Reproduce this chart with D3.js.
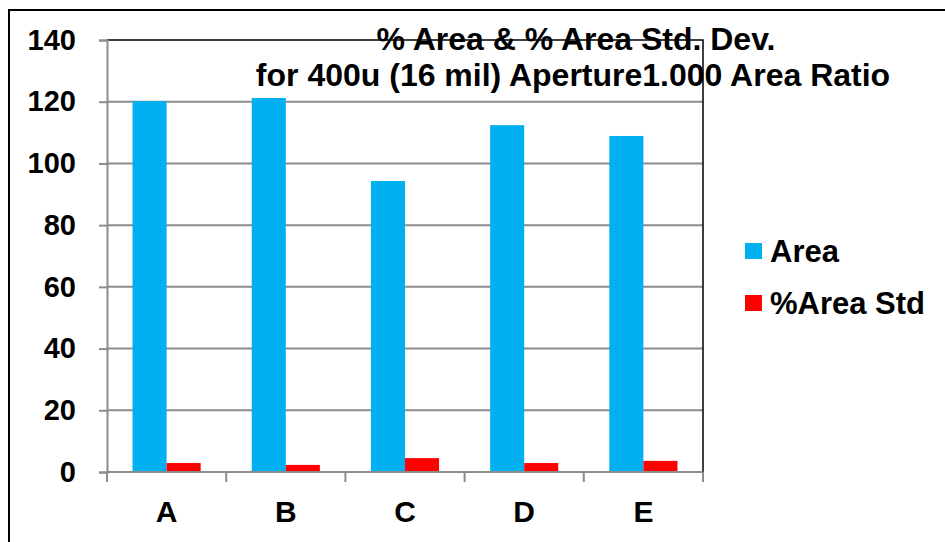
<!DOCTYPE html>
<html>
<head>
<meta charset="utf-8">
<script src="https://cdn.jsdelivr.net/npm/d3@7"></script>
<style>
  html, body { margin: 0; padding: 0; background: #fff; }
  svg { display: block; font-family: "Liberation Sans", Arial, sans-serif; }
</style>
</head>
<body>
<svg id="chart" width="945" height="542"></svg>
<script>
const categories = ["A", "B", "C", "D", "E"];
const areaValues = [120.2, 121.2, 94.3, 112.4, 108.9];
const stdValues = [2.9, 2.3, 4.5, 2.9, 3.6];
const seriesNames = ["Area", "%Area Std"];
const seriesColors = ["#00B0F0", "#FF0000"];
const yTicks = [0, 20, 40, 60, 80, 100, 120, 140];
const titleLines = ["% Area & % Area Std. Dev.", "for 400u (16 mil) Aperture1.000 Area Ratio"];

const svg = d3.select("#chart");
const plot = { left: 107, right: 703, top: 40, bottom: 472 };

// Outer frame (runs off the right and bottom edges)
svg.append("rect")
  .attr("x", 9).attr("y", 10).attr("width", 1000).attr("height", 1000)
  .attr("fill", "none").attr("stroke", "#000").attr("stroke-width", 2);

const x = d3.scaleBand().domain(categories).range([plot.left, plot.right]);
const xInner = d3.scaleBand().domain(seriesNames)
  .range([0, x.bandwidth()]).paddingOuter(0.75).paddingInner(0);
const y = d3.scaleLinear().domain([0, 140]).range([plot.bottom, plot.top]);

// Gridlines
svg.append("g").selectAll("line").data(yTicks.filter(d => d > 0 && d < 140)).join("line")
  .attr("x1", plot.left).attr("x2", plot.right)
  .attr("y1", d => y(d)).attr("y2", d => y(d))
  .attr("stroke", "#8c8c8c").attr("stroke-width", 2);

// Top and right plot border
svg.append("path")
  .attr("d", `M${plot.left},${plot.top}H${plot.right}V${plot.bottom}`)
  .attr("fill", "none").attr("stroke", "#000").attr("stroke-width", 1.5);

// Bars
const series = [areaValues, stdValues];
const groups = svg.append("g").selectAll("g").data(categories).join("g")
  .attr("transform", d => `translate(${x(d)},0)`);
groups.selectAll("rect")
  .data((c, i) => series.map((vals, s) => ({ s, v: vals[i] })))
  .join("rect")
  .attr("x", d => xInner(seriesNames[d.s]))
  .attr("width", xInner.bandwidth())
  .attr("y", d => y(d.v))
  .attr("height", d => plot.bottom - y(d.v))
  .attr("fill", d => seriesColors[d.s]);

// Y axis
const yAxis = svg.append("g").attr("transform", `translate(${plot.left},0)`)
  .call(d3.axisLeft(y).tickValues(yTicks).tickSize(8).tickPadding(23));
yAxis.select(".domain").attr("stroke", "#8c8c8c").attr("stroke-width", 2);
yAxis.selectAll(".tick line").attr("stroke", "#8c8c8c").attr("stroke-width", 2);
yAxis.selectAll(".tick text").attr("font-size", 29).attr("font-weight", "bold")
  .attr("fill", "#000").attr("font-family", "Liberation Sans, Arial, sans-serif");

// X axis with ticks at category boundaries
svg.append("line")
  .attr("x1", plot.left).attr("x2", plot.right)
  .attr("y1", plot.bottom).attr("y2", plot.bottom)
  .attr("stroke", "#8c8c8c").attr("stroke-width", 2);
const boundaries = categories.map(c => x(c)).concat([x(categories[categories.length - 1]) + x.step()]);
svg.append("g").selectAll("line").data(boundaries).join("line")
  .attr("x1", d => d).attr("x2", d => d)
  .attr("y1", plot.bottom).attr("y2", plot.bottom + 10)
  .attr("stroke", "#8c8c8c").attr("stroke-width", 2);
svg.append("g").selectAll("text").data(categories).join("text")
  .attr("x", d => x(d) + x.bandwidth() / 2)
  .attr("y", 522)
  .attr("text-anchor", "middle")
  .attr("font-size", 30).attr("font-weight", "bold")
  .text(d => d);

// Title
svg.append("g").selectAll("text").data(titleLines).join("text")
  .attr("x", (d, i) => i === 0 ? 576 : 573)
  .attr("y", (d, i) => 50 + i * 36)
  .attr("text-anchor", "middle")
  .attr("font-size", 32).attr("font-weight", "bold")
  .text(d => d);

// Legend
const legend = svg.append("g").selectAll("g").data(seriesNames).join("g")
  .attr("transform", (d, i) => `translate(745,${243 + i * 52})`);
legend.append("rect").attr("width", 17).attr("height", 16)
  .attr("fill", (d, i) => seriesColors[i]);
legend.append("text").attr("x", 25).attr("y", 19)
  .attr("font-size", 31).attr("font-weight", "bold")
  .text(d => d);
</script>
</body>
</html>
